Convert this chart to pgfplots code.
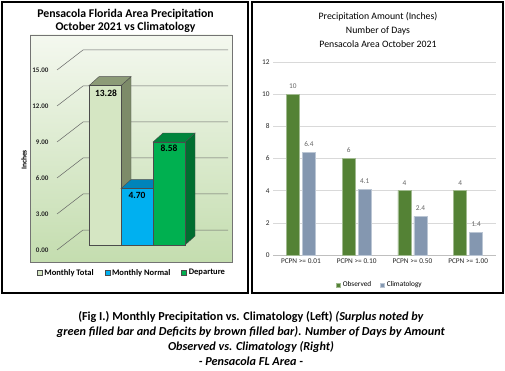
\documentclass[border=0pt]{standalone}
\usepackage{pgfplots}
\pgfplotsset{compat=1.18}
\usepackage{fontspec}
\setmainfont{Carlito}
\definecolor{bgtop}{HTML}{F4F8EF}
\definecolor{bgbot}{HTML}{C4DDAF}
\definecolor{totF}{HTML}{D5E6C3}
\definecolor{totS}{HTML}{7D8B69}
\definecolor{totT}{HTML}{8C9B77}
\definecolor{norF}{HTML}{00B0F0}
\definecolor{norT}{HTML}{0084BA}
\definecolor{norS}{HTML}{006E9C}
\definecolor{depF}{HTML}{00B050}
\definecolor{depT}{HTML}{00853C}
\definecolor{depS}{HTML}{006E30}
\definecolor{obs}{HTML}{548235}
\definecolor{clim}{HTML}{8497B0}
\begin{document}
\begin{tikzpicture}
\useasboundingbox (0pt,0pt) rectangle (505pt,-371pt);
\fill[white] (0pt,0pt) rectangle (505pt,-371pt);
% ---------------- left chart ----------------
\begin{axis}[
  at={(30pt,-262pt)}, anchor=south west, scale only axis,
  width=202pt, height=227pt,
  xmin=30, xmax=232, ymin=-1, ymax=17.9167,
  axis background/.style={top color=bgtop, bottom color=bgbot},
  axis line style={draw=black!55, line width=0.6pt},
  xtick=\empty,
  ytick={0,3,...,15},
  major tick length=0pt,
  yticklabel style={anchor=east, xshift=22pt, font=\fontsize{7}{8}\selectfont\bfseries, text=black!85},
  /pgf/number format/assume math mode=true,
  /pgf/number format/fixed, /pgf/number format/fixed zerofill, /pgf/number format/precision=2,
  legend columns=3,
  legend style={at={(axis description cs:0.505,-0.048)}, anchor=center, draw=none, fill=none,
    font=\fontsize{8.5}{9}\selectfont\bfseries, /tikz/every even column/.append style={column sep=9pt}, inner sep=0pt},
  legend image code/.code={\draw[#1,draw=black!70,line width=0.4pt] (0pt,-2.5pt) rectangle (5pt,2.5pt);},
]
% back wall gridlines
\addplot[forget plot, draw=black!60, line width=0.5pt] coordinates {(57,0) (83,1.6667) (228,1.6667)};
\addplot[forget plot, draw=black!60, line width=0.5pt] coordinates {(57,3) (83,4.6667) (228,4.6667)};
\addplot[forget plot, draw=black!60, line width=0.5pt] coordinates {(57,6) (83,7.6667) (228,7.6667)};
\addplot[forget plot, draw=black!60, line width=0.5pt] coordinates {(57,9) (83,10.6667) (228,10.6667)};
\addplot[forget plot, draw=black!60, line width=0.5pt] coordinates {(57,12) (83,13.6667) (228,13.6667)};
\addplot[forget plot, draw=black!60, line width=0.5pt] coordinates {(57,15) (83,16.6667) (228,16.6667)};
% Monthly Total 13.28
\addplot[forget plot, fill=totS, draw=black!70, line width=0.4pt] coordinates {(121,0.4167) (121,13.6967) (131,14.4467) (131,1.1667)} -- cycle;
\addplot[forget plot, fill=totT, draw=black!70, line width=0.4pt] coordinates {(89,13.6967) (121,13.6967) (131,14.4467) (99,14.4467)} -- cycle;
\addplot[fill=totF, draw=black!70, line width=0.4pt] coordinates {(89,0.4167) (121,0.4167) (121,13.6967) (89,13.6967)} -- cycle;
\addlegendentry{Monthly Total}
% Monthly Normal 4.70
\addplot[forget plot, fill=norS, draw=black!70, line width=0.4pt] coordinates {(153,0.4167) (153,5.1167) (163,5.8667) (163,1.1667)} -- cycle;
\addplot[forget plot, fill=norT, draw=black!70, line width=0.4pt] coordinates {(121,5.1167) (153,5.1167) (163,5.8667) (131,5.8667)} -- cycle;
\addplot[fill=norF, draw=black!70, line width=0.4pt] coordinates {(121,0.4167) (153,0.4167) (153,5.1167) (121,5.1167)} -- cycle;
\addlegendentry{Monthly Normal}
% Departure 8.58
\addplot[forget plot, fill=depS, draw=black!70, line width=0.4pt] coordinates {(185,0.4167) (185,8.9967) (195,9.7467) (195,1.1667)} -- cycle;
\addplot[forget plot, fill=depT, draw=black!70, line width=0.4pt] coordinates {(153,8.9967) (185,8.9967) (195,9.7467) (163,9.7467)} -- cycle;
\addplot[fill=depF, draw=black!70, line width=0.4pt] coordinates {(153,0.4167) (185,0.4167) (185,8.9967) (153,8.9967)} -- cycle;
\addlegendentry{Departure}
\node[font=\fontsize{9.5}{10}\selectfont\bfseries] at (axis cs:106,13.05) {13.28};
\node[font=\fontsize{9.5}{10}\selectfont\bfseries] at (axis cs:137,4.58) {4.70};
\node[font=\fontsize{9.5}{10}\selectfont\bfseries] at (axis cs:169,8.45) {8.58};
\end{axis}
\node[align=center, font=\fontsize{11.8}{13}\selectfont\bfseries] at (125.5pt,-20.5pt) {Pensacola Florida Area Precipitation\\October 2021 vs Climatology};
\node[rotate=90, font=\fontsize{7.5}{8}\selectfont\bfseries] at (24pt,-160pt) {Inches};
% ---------------- right chart ----------------
\begin{axis}[
  at={(273pt,-255pt)}, anchor=south west, scale only axis,
  width=223pt, height=193pt,
  xmin=-0.5, xmax=3.5, ymin=0, ymax=12,
  ybar=3pt, bar width=13pt,
  xtick={0,1,2,3},
  xticklabels={PCPN >= 0.01, PCPN >= 0.10, PCPN >= 0.50, PCPN >= 1.00},
  ytick={0,2,...,12},
  ymajorgrids, grid style={draw=black!15, line width=0.6pt},
  axis x line*=bottom, axis y line*=left,
  y axis line style={draw=none},
  x axis line style={draw=black!25, line width=0.6pt},
  major tick length=0pt,
  tick label style={font=\fontsize{7.3}{8}\selectfont, text=black!85},
  /pgf/number format/assume math mode=true,
  nodes near coords,
  nodes near coords style={font=\fontsize{7.3}{8}\selectfont, text=black!60, yshift=2pt},
  legend columns=2,
  legend style={at={(axis description cs:0.48,-0.155)}, anchor=center, draw=none, fill=none,
    font=\fontsize{7.3}{8}\selectfont, /tikz/every even column/.append style={column sep=7pt}, inner sep=0pt},
  legend image code/.code={\fill[#1] (0pt,-2pt) rectangle (4pt,2pt);},
]
\addplot[fill=obs, draw=obs!55!white, line width=0.5pt] coordinates {(0,10) (1,6) (2,4) (3,4)};
\addlegendentry{Observed}
\addplot[fill=clim, draw=clim!55!white, line width=0.5pt] coordinates {(0,6.4) (1,4.1) (2,2.4) (3,1.4)};
\addlegendentry{Climatology}
\end{axis}
\node[align=center, font=\fontsize{9.8}{14}\selectfont] at (378pt,-30pt) {Precipitation Amount (Inches)\\Number of Days\\Pensacola Area October 2021};
% ---------------- borders ----------------
\draw[line width=2.4pt] (1.8pt,-1.8pt) rectangle (247.8pt,-292.8pt);
\draw[line width=2.4pt] (252.2pt,-1.8pt) rectangle (503.2pt,-292.8pt);
% ---------------- caption ----------------
\node[align=center, font=\fontsize{12.2}{15.3}\selectfont\bfseries] at (251pt,-338.5pt) {(Fig I.) Monthly Precipitation vs. Climatology (Left) \textit{(Surplus noted by}\\\textit{green filled bar and Deficits by brown filled bar). Number of Days by Amount}\\\textit{Observed vs. Climatology (Right)}\\\textit{- Pensacola FL Area -}};
\end{tikzpicture}
\end{document}
